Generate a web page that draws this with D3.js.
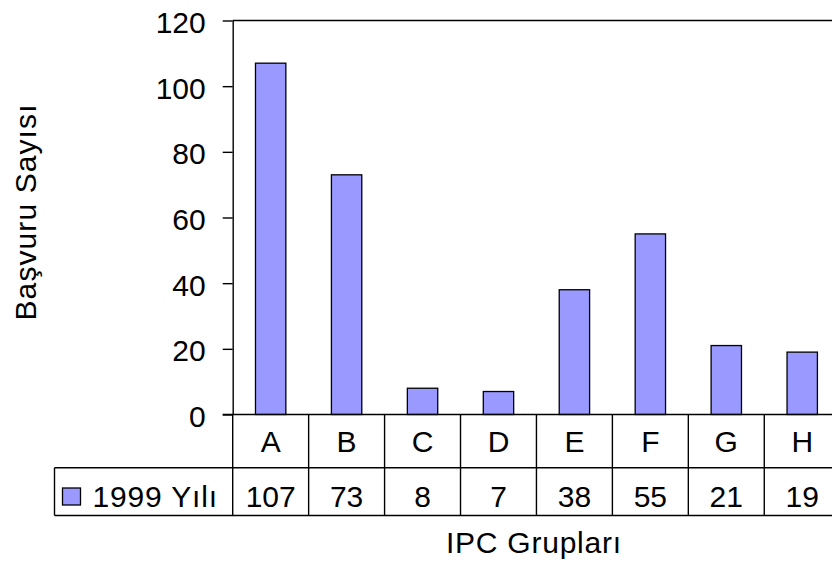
<!DOCTYPE html>
<html>
<head>
<meta charset="utf-8">
<script src="https://cdn.jsdelivr.net/npm/d3@7"></script>
<style>
  html, body { margin: 0; padding: 0; background: #fff; }
  svg { display: block; }
  text { font-family: "Liberation Sans", Arial, sans-serif; fill: #000; }
</style>
</head>
<body>
<svg id="chart" width="832" height="565"></svg>
<script>
const categories = ["A", "B", "C", "D", "E", "F", "G", "H"];
const values = [107, 73, 8, 7, 38, 55, 21, 19];
const seriesName = "1999 Yılı";
const yTicks = [0, 20, 40, 60, 80, 100, 120];
const yTitle = "Başvuru Sayısı";
const xTitle = "IPC Grupları";

(function () {
const svg = d3.select("#chart");
const pLeft = 232.7, pRight = 840.2, pTop = 20.5, pBottom = 414.5;
const row1 = 467.7, row2 = 515.5, tableLeft = 54.5;
const fontSize = 30;
const barFill = "#9999FF";

const x = d3.scaleBand().domain(categories).range([pLeft, pRight]).paddingInner(0.6).paddingOuter(0.3);
const xCol = d3.scaleBand().domain(categories).range([pLeft, pRight]).padding(0);
const y = d3.scaleLinear().domain([0, 120]).range([pBottom, pTop]);

// Plot top border
svg.append("line").attr("x1", pLeft).attr("x2", pRight).attr("y1", pTop).attr("y2", pTop)
  .attr("stroke", "#000").attr("stroke-width", 1.4);

// Bars
svg.append("g").selectAll("rect").data(values).join("rect")
  .attr("x", (d, i) => x(categories[i]))
  .attr("y", d => y(d))
  .attr("width", x.bandwidth())
  .attr("height", d => y(0) - y(d))
  .attr("fill", barFill)
  .attr("stroke", "#000")
  .attr("stroke-width", 1.3);

// Y axis
const yAxis = d3.axisLeft(y).tickValues(yTicks).tickSize(10).tickPadding(17).tickSizeOuter(0);
const gy = svg.append("g").attr("transform", `translate(${pLeft},0)`).call(yAxis);
gy.select(".domain").attr("stroke", "#000").attr("stroke-width", 1.4);
gy.selectAll(".tick line").attr("stroke", "#000").attr("stroke-width", 1.4);
gy.selectAll(".tick text").attr("font-size", fontSize).attr("dy", "0.4em")
  .attr("font-family", "'Liberation Sans', Arial, sans-serif").attr("fill", "#000");

// Data table
const tbl = svg.append("g").attr("stroke", "#000").attr("stroke-width", 1.4);
tbl.append("line").attr("x1", pLeft - 10).attr("x2", pRight).attr("y1", pBottom).attr("y2", pBottom);
tbl.append("line").attr("x1", tableLeft).attr("x2", pRight).attr("y1", row1).attr("y2", row1);
tbl.append("line").attr("x1", tableLeft).attr("x2", pRight).attr("y1", row2).attr("y2", row2);
tbl.append("line").attr("x1", tableLeft).attr("x2", tableLeft).attr("y1", row1).attr("y2", row2);
const bounds = categories.map(c => xCol(c)).concat([pRight]);
tbl.selectAll("line.v").data(bounds).join("line").attr("class", "v")
  .attr("x1", d => d).attr("x2", d => d).attr("y1", pBottom).attr("y2", row2);

// category labels
svg.append("g").selectAll("text").data(categories).join("text")
  .attr("x", d => xCol(d) + xCol.bandwidth() / 2)
  .attr("y", 451.7)
  .attr("text-anchor", "middle")
  .attr("font-size", fontSize)
  .text(d => d);

// values row
svg.append("g").selectAll("text").data(values).join("text")
  .attr("x", (d, i) => xCol(categories[i]) + xCol.bandwidth() / 2)
  .attr("y", 507.3)
  .attr("text-anchor", "middle")
  .attr("font-size", fontSize)
  .text(d => d);

// legend key
svg.append("rect").attr("x", 62.5).attr("y", 488).attr("width", 18).attr("height", 17)
  .attr("fill", barFill).attr("stroke", "#000").attr("stroke-width", 1.3);
svg.append("text").attr("x", 92.5).attr("y", 507.3)
  .attr("font-size", fontSize)
  .attr("textLength", 124.5).attr("lengthAdjust", "spacing")
  .text(seriesName);

// axis titles
svg.append("text").attr("x", 533.5).attr("y", 553.3)
  .attr("text-anchor", "middle").attr("font-size", fontSize)
  .attr("textLength", 175).attr("lengthAdjust", "spacing")
  .text(xTitle);
svg.append("text").attr("transform", `translate(35.5,212.5) rotate(-90)`)
  .attr("text-anchor", "middle").attr("font-size", fontSize)
  .attr("textLength", 216).attr("lengthAdjust", "spacing")
  .text(yTitle);
})();
</script>
</body>
</html>
